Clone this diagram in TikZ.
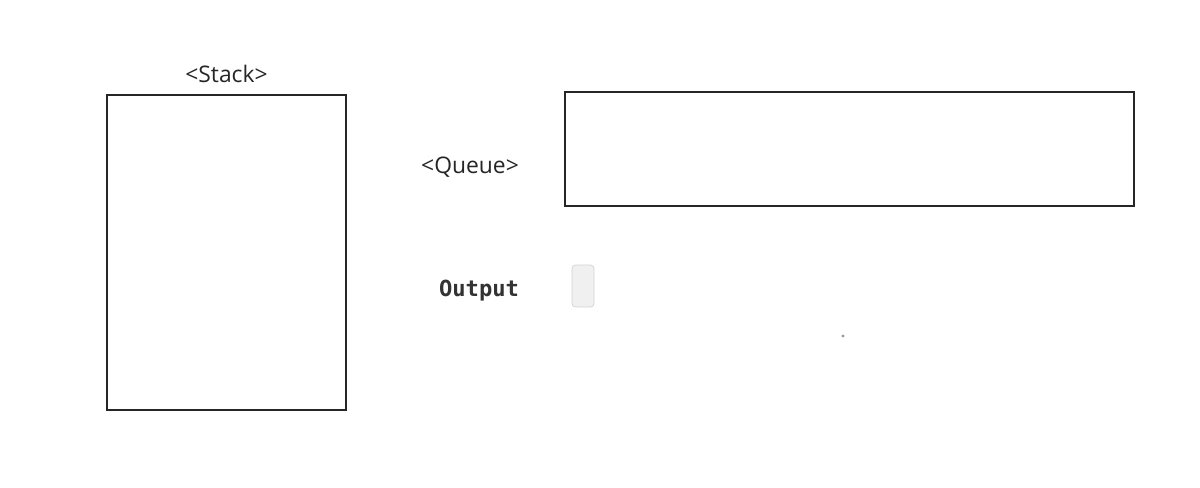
\documentclass[tikz,border=0pt]{standalone}
\usepackage{fontspec}
\setmainfont{Open Sans}
\newfontfamily\codefont{DejaVu Sans Mono}
\usetikzlibrary{positioning}

\begin{document}
\begin{tikzpicture}[x=0.02cm, y=-0.02cm,
    box/.style={draw=black!85, line width=1.2pt},
    lbl/.style={text=black!85, font=\fontsize{13}{15}\selectfont, inner sep=0pt},
    outlbl/.style={text=black!80, font=\codefont\bfseries\fontsize{12.6}{14}\selectfont, inner sep=0pt}]
    \useasboundingbox (0,0) rectangle (1200,487);
    % stack
    \node[box, minimum width=239*0.02cm, minimum height=315*0.02cm, inner sep=0pt] (stack) at (226.5,252.5) {};
    \node[lbl, above=6pt of stack.north] (stacklbl) {<Stack>};
    % queue
    \node[box, minimum width=569*0.02cm, minimum height=114*0.02cm, inner sep=0pt] (queue) at (849.5,149) {};
    \node[lbl] (queuelbl) at (470,167) {<Queue>};
    % output
    \node[outlbl] (outlbl) at (479,291) {Output};
    \node[draw=gray!35, fill=gray!12, rounded corners=2pt, minimum width=22*0.02cm, minimum height=42*0.02cm, inner sep=0pt] (outbox) at (583,286) {};
    \fill[gray!80] (843,336) circle (1.6);
\end{tikzpicture}
\end{document}
